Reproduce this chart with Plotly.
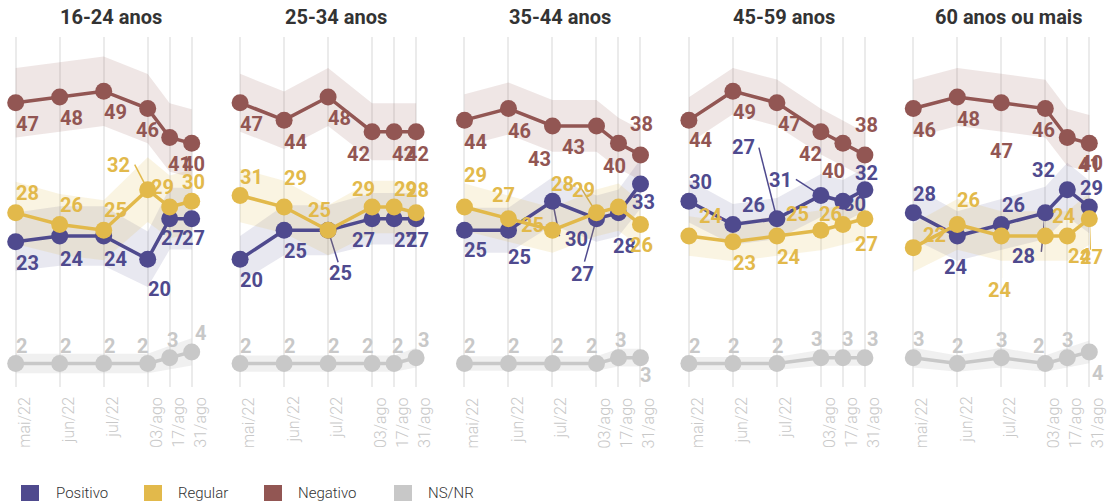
import math
import plotly.graph_objects as go

W, H = 1107, 501


def px(xw):
    return xw / W


def py(yw):
    return 1 - yw / H


# ---------------- data ----------------
polls = ["mai/22", "jun/22", "jul/22", "03/ago", "17/ago", "31/ago"]
poll_day = [0, 28, 56, 84, 98, 112]          # days since first poll
groups = ["16-24 anos", "25-34 anos", "35-44 anos", "45-59 anos", "60 anos ou mais"]

positivo = [
    [23, 24, 24, 20, 27, 27],
    [20, 25, 25, 27, 27, 27],
    [25, 25, 30, 27, 28, 33],
    [30, 26, 27, 31, 30, 32],
    [28, 24, 26, 28, 32, 29],
]
regular = [
    [28, 26, 25, 32, 29, 30],
    [31, 29, 25, 29, 29, 28],
    [29, 27, 25, 28, 29, 26],
    [24, 23, 24, 25, 26, 27],
    [22, 26, 24, 24, 24, 27],
]
negativo = [
    [47, 48, 49, 46, 41, 40],
    [47, 44, 48, 42, 42, 42],
    [44, 46, 43, 43, 40, 38],
    [44, 49, 47, 42, 40, 38],
    [46, 48, 47, 46, 41, 40],
]
nsnr = [
    [2, 2, 2, 2, 3, 4],
    [2, 2, 2, 2, 2, 3],
    [2, 2, 2, 2, 3, 3],
    [2, 2, 2, 3, 3, 3],
    [3, 2, 3, 2, 3, 4],
]
margin_of_error = [6.0, 5.0, 4.5, 4.0, 5.0]   # points, per age group
series_names = ["Positivo", "Regular", "Negativo", "NS/NR"]

# ---------------- styles ----------------
COLORS = {"Positivo": "#4f4a8e", "Regular": "#e2b94b", "Negativo": "#925653", "NS/NR": "#c8c8c8"}
BAND = {"Positivo": "rgba(79,74,142,0.13)", "Regular": "rgba(226,185,75,0.16)",
        "Negativo": "rgba(146,86,83,0.15)", "NS/NR": "rgba(200,200,200,0.28)"}
FONT = "Roboto, 'Open Sans', sans-serif"

series_data = {"Positivo": positivo, "Regular": regular, "Negativo": negativo, "NS/NR": nsnr}

PX_PER_DAY = 176 / 112
X_RANGE = [-8, 120]
Y_RANGE = [-2, 58.4]
Y_TOP_PX, Y_BOT_PX = 36.7, 386.7

DEFAULT_OFF = {"Positivo": (0, 21), "Regular": (0, -20), "Negativo": (0, 21), "NS/NR": (0, -18)}
OFF = {
    (0, "Negativo", 3): (-12, 21), (0, "Negativo", 4): (-2, 26), (0, "Negativo", 5): (-10, 21),
    (0, "Regular", 1): (0, -19), (0, "Regular", 3): (-41, -25), (0, "Regular", 4): (-19, -20),
    (0, "Regular", 5): (-10, -19),
    (0, "Positivo", 1): (0, 23), (0, "Positivo", 2): (0, 23), (0, "Positivo", 3): (0, 30),
    (0, "Positivo", 4): (-9, 19), (0, "Positivo", 5): (-10, 19),
    (0, "NS/NR", 3): (-11, -18), (0, "NS/NR", 4): (-3, -18), (0, "NS/NR", 5): (3, -19),

    (1, "Negativo", 3): (-25, 22), (1, "Negativo", 4): (-2, 22), (1, "Negativo", 5): (-10, 22),
    (1, "Negativo", 1): (0, 22),
    (1, "Regular", 0): (0, -18), (1, "Regular", 1): (0, -29), (1, "Regular", 2): (-20, -20),
    (1, "Regular", 3): (-20, -18), (1, "Regular", 4): (0, -18), (1, "Regular", 5): (-10, -23),
    (1, "Positivo", 2): (1, 43), (1, "Positivo", 3): (-20, 21), (1, "Positivo", 4): (0, 21),
    (1, "Positivo", 5): (-10, 21),
    (1, "NS/NR", 3): (-10, -18), (1, "NS/NR", 4): (-2, -18), (1, "NS/NR", 5): (2, -18),

    (2, "Negativo", 0): (0, 22), (2, "Negativo", 1): (0, 22), (2, "Negativo", 2): (-24, 33),
    (2, "Negativo", 3): (-34, 21), (2, "Negativo", 4): (-15, 23), (2, "Negativo", 5): (-10, -31),
    (2, "Regular", 0): (0, -32), (2, "Regular", 1): (-16, -24), (2, "Regular", 2): (-31, -5),
    (2, "Regular", 3): (-45, -29), (2, "Regular", 4): (-46, -17), (2, "Regular", 5): (-10, 21),
    (2, "Positivo", 0): (0, 20), (2, "Positivo", 1): (0, 27), (2, "Positivo", 2): (13, 38),
    (2, "Positivo", 3): (-25, 55), (2, "Positivo", 4): (-5, 33), (2, "Positivo", 5): (-8, 18),
    (2, "NS/NR", 3): (-10, -18), (2, "NS/NR", 4): (-3, -18), (2, "NS/NR", 5): (0, 17),

    (3, "Negativo", 0): (0, 20), (3, "Negativo", 2): (1, 21), (3, "Negativo", 3): (-22, 22),
    (3, "Negativo", 4): (-21, 28), (3, "Negativo", 5): (-10, -30),
    (3, "Positivo", 0): (0, -19), (3, "Positivo", 1): (9, -19), (3, "Positivo", 2): (-45, -72),
    (3, "Positivo", 3): (-52, -15), (3, "Positivo", 4): (0, 3), (3, "Positivo", 5): (-10, -17),
    (3, "Regular", 0): (10, -20), (3, "Regular", 1): (0, 21), (3, "Regular", 2): (0, 21),
    (3, "Regular", 3): (-35, -16), (3, "Regular", 4): (-24, -10), (3, "Regular", 5): (-10, 25),
    (3, "NS/NR", 1): (-5, -18), (3, "NS/NR", 2): (-5, -18), (3, "NS/NR", 3): (-10, -19),
    (3, "NS/NR", 4): (-1, -19), (3, "NS/NR", 5): (2, -19),

    (4, "Negativo", 1): (0, 22), (4, "Negativo", 2): (-11, 48), (4, "Negativo", 3): (-13, 21),
    (4, "Negativo", 4): (11, 27), (4, "Negativo", 5): (-9, 20),
    (4, "Positivo", 0): (0, -19), (4, "Positivo", 1): (-13, 31), (4, "Positivo", 2): (1, -19),
    (4, "Positivo", 3): (-33, 43), (4, "Positivo", 4): (-35, -20), (4, "Positivo", 5): (-9, -19),
    (4, "Regular", 0): (10, -13), (4, "Regular", 1): (0, -24), (4, "Regular", 2): (-13, 54),
    (4, "Regular", 3): (7, -20), (4, "Regular", 4): (1, 20), (4, "Regular", 5): (-9, 38),
    (4, "NS/NR", 0): (0, -19), (4, "NS/NR", 1): (-5, -18), (4, "NS/NR", 2): (-5, -18),
    (4, "NS/NR", 3): (-12, -18), (4, "NS/NR", 4): (-5, -18), (4, "NS/NR", 5): (3, 21),
}
LEADERS = {
    (0, "Regular", 3): (-13, -25),
    (1, "Positivo", 2): (10, 32),
    (2, "Regular", 3): (-18, -29),
    (2, "Positivo", 2): (7, 35),
    (2, "Positivo", 3): (-12, 43),
    (3, "Positivo", 2): (-18, -71),
    (3, "Positivo", 3): (-25, -16),
    (4, "Negativo", 2): (0, 37),
    (4, "Positivo", 3): (-4, 39),
    (4, "Regular", 2): (0, 42),
    (4, "Regular", 5): (1, 31),
}

fig = go.Figure()
annotations = []
shapes = []

for k, grp in enumerate(groups):
    ax = "" if k == 0 else str(k + 1)
    xref, yref = "x" + ax, "y" + ax
    first_px = 15.7 + 224.4 * k
    left_px = first_px + X_RANGE[0] * PX_PER_DAY
    right_px = first_px + X_RANGE[1] * PX_PER_DAY
    fig.layout["xaxis" + ax] = dict(
        domain=[max(0, px(left_px)), min(1, px(right_px))], range=X_RANGE, anchor=yref,
        tickvals=poll_day, showticklabels=False, showgrid=True,
        gridcolor="#ebebeb", gridwidth=2, zeroline=False, showline=False, ticks="",
        fixedrange=True,
    )
    fig.layout["yaxis" + ax] = dict(
        domain=[py(Y_BOT_PX), py(Y_TOP_PX)], range=Y_RANGE, anchor=xref,
        visible=False, showgrid=False, zeroline=False, fixedrange=True,
    )

    for s in series_names:
        vals = series_data[s][k]
        m = margin_of_error[k]
        hw = [m * math.sqrt(v * (100 - v)) / 50 for v in vals]
        up = [v + h for v, h in zip(vals, hw)]
        lo = [v - h for v, h in zip(vals, hw)]
        fig.add_trace(go.Scatter(
            x=poll_day + poll_day[::-1], y=up + lo[::-1], fill="toself",
            fillcolor=BAND[s], line=dict(width=0), mode="lines",
            hoverinfo="skip", showlegend=False, xaxis=xref, yaxis=yref))

    for s in ["NS/NR", "Negativo", "Positivo", "Regular"]:
        vals = series_data[s][k]
        fig.add_trace(go.Scatter(
            x=poll_day, y=vals, mode="lines+markers", name=s,
            line=dict(color=COLORS[s], width=3.5),
            marker=dict(color=COLORS[s], size=17),
            showlegend=False, cliponaxis=False, xaxis=xref, yaxis=yref))

    for s in series_names:
        vals = series_data[s][k]
        for i, v in enumerate(vals):
            dx, dy = OFF.get((k, s, i), DEFAULT_OFF[s])
            annotations.append(dict(
                x=poll_day[i], y=v, xref=xref, yref=yref, text=str(v), showarrow=False,
                xanchor="left", yanchor="middle", xshift=dx - 2, yshift=-dy,
                font=dict(family=FONT, size=20, color=COLORS[s], weight=700)))
            if (k, s, i) in LEADERS:
                ex, ey = LEADERS[(k, s, i)]
                shapes.append(dict(
                    type="line", xref=xref, yref=yref, xsizemode="pixel", ysizemode="pixel",
                    xanchor=poll_day[i], yanchor=v, x0=0, y0=0, x1=ex, y1=-ey,
                    line=dict(color=COLORS[s], width=1.5), layer="below"))

    for i, lab in enumerate(polls):
        annotations.append(dict(
            x=poll_day[i], y=py(395), xref=xref, yref="paper", text=lab,
            showarrow=False, textangle=-90, xanchor="left", yanchor="top", xshift=-3,
            font=dict(family=FONT, size=16, color="#c8c8c8", weight=300)))

    annotations.append(dict(
        x=px(first_px + 95.5), y=py(17), xref="paper", yref="paper", text=grp,
        showarrow=False, xanchor="center", yanchor="middle",
        font=dict(family=FONT, size=20, color="#333333", weight=700)))

legend_sq_x = [21, 144, 264, 394]
legend_txt_x = [54, 176, 296, 426]
for s, sx, tx in zip(series_names, legend_sq_x, legend_txt_x):
    shapes.append(dict(type="rect", xref="paper", yref="paper",
                       x0=px(sx), x1=px(sx + 18), y0=py(501), y1=py(485),
                       fillcolor=COLORS[s], line=dict(width=0), layer="above"))
    annotations.append(dict(x=px(tx), y=py(493), xref="paper", yref="paper", text=s,
                            showarrow=False, xanchor="left", yanchor="middle",
                            font=dict(family=FONT, size=15, color="#333333", weight=300)))

fig.update_layout(
    width=W, height=H, margin=dict(l=0, r=0, t=0, b=0),
    paper_bgcolor="white", plot_bgcolor="white",
    annotations=annotations, shapes=shapes, showlegend=False,
    font=dict(family=FONT), hovermode=False,
)

fig.write_html(
    "out.html",
    config={"displayModeBar": False, "staticPlot": True},
    post_script="document.body.style.margin='0px';document.body.style.overflow='hidden';",
)
